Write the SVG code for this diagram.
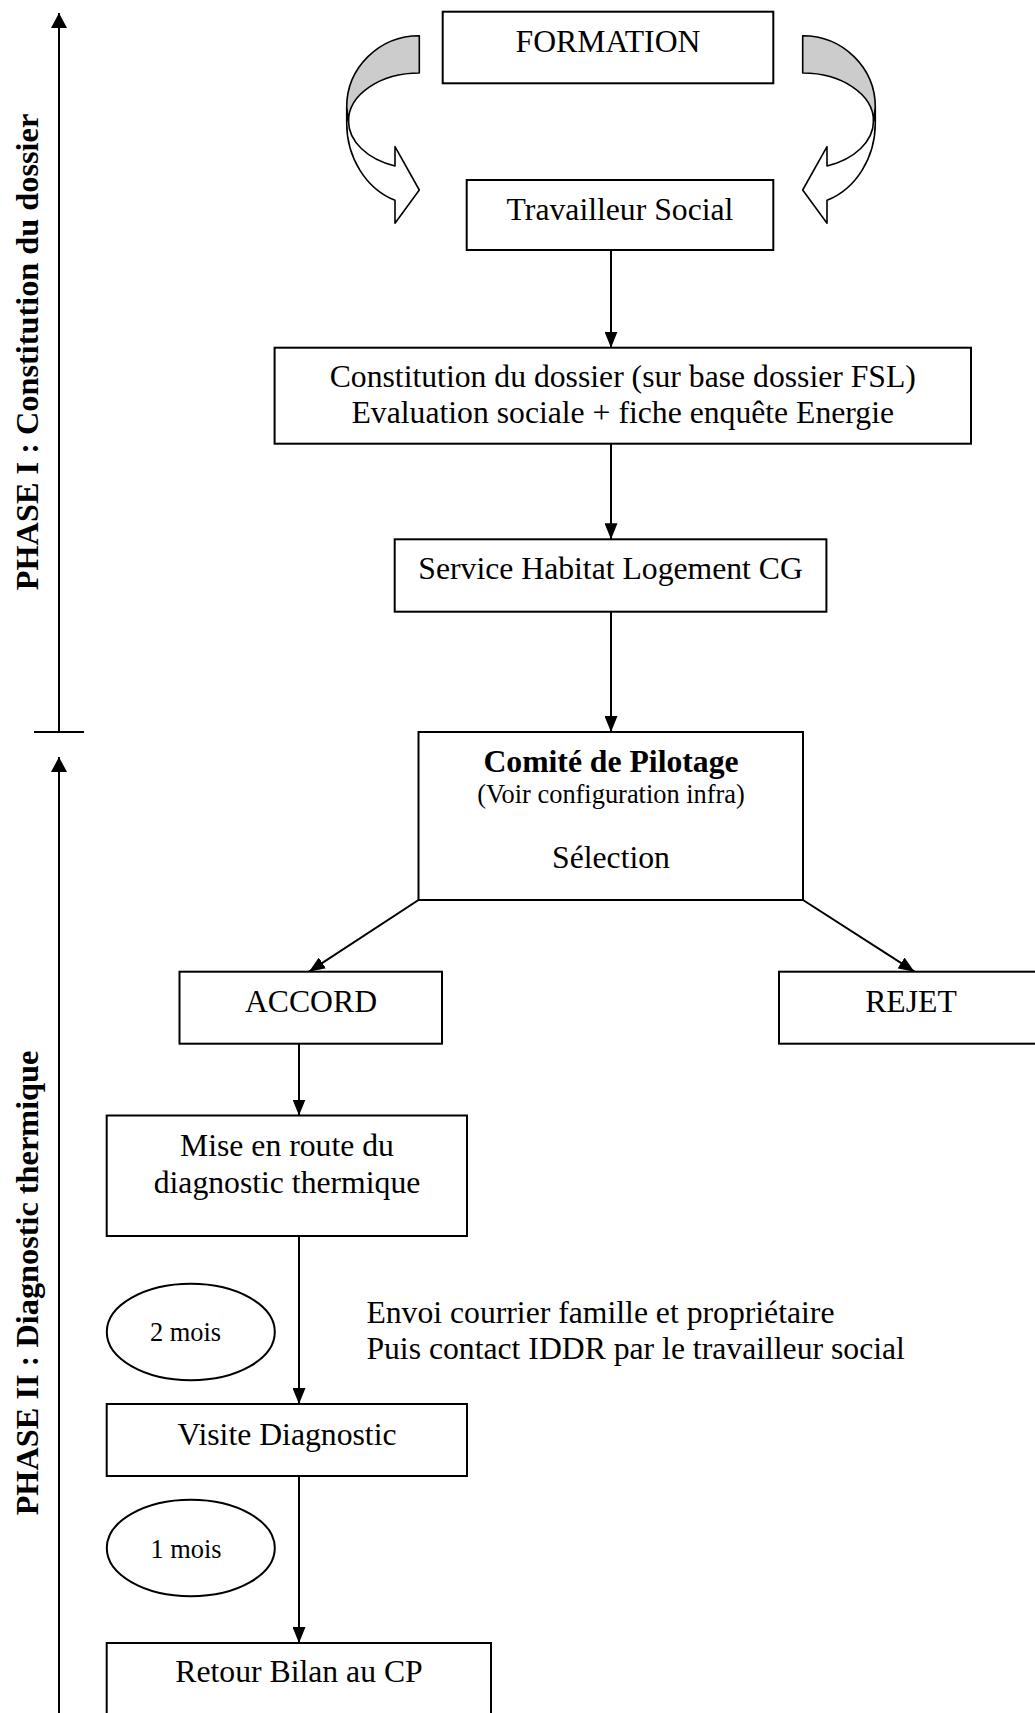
<svg xmlns="http://www.w3.org/2000/svg" width="1035" height="1713" viewBox="0 0 1035 1713">
<style>
.box{fill:#fff;stroke:#000;stroke-width:2}
.t{font-family:"Liberation Serif","Times New Roman",serif;font-size:31.7px;fill:#000;text-anchor:middle}
.s{font-size:26.4px}
.b{font-weight:bold}
.l{text-anchor:start}
.phase{font-family:"Liberation Serif","Times New Roman",serif;font-size:32.3px;font-weight:bold;fill:#000;text-anchor:middle}
.conn{stroke:#000;stroke-width:2;fill:none}
.grey{fill:#cccccc;stroke:#000;stroke-width:1.6;stroke-linejoin:round}
.white{fill:#fff;stroke:#000;stroke-width:1.6;stroke-linejoin:round}
</style>
<defs>
<marker id="ah" viewBox="0 0 16 13" refX="16" refY="6.5" markerWidth="16" markerHeight="13" orient="auto" markerUnits="userSpaceOnUse">
<path d="M0,0 L16,6.5 L0,13 Z" fill="#000"/>
</marker>
<marker id="ph" viewBox="0 0 15 16" refX="15" refY="8" markerWidth="15" markerHeight="16" orient="auto" markerUnits="userSpaceOnUse">
<path d="M0,0 L15,8 L0,16 Z" fill="#000"/>
</marker>
<g id="curl">
<path class="white" d="M346.7,107 L346.7,123 A72.6 82 0 0 0 395,200.3 L395,223.3 L419.3,190 L395,146.7 L395,166 A70.8 48 0 0 1 348.5,121 Z"/>
<path class="grey" d="M419.3,35.7 A72.6 71.3 0 0 0 346.7,107 L348.5,121 A70.8 48 0 0 1 419.3,73 Z"/>
</g>
</defs>

<g id="phases">
<line class="conn" x1="59" y1="732" x2="59" y2="13" marker-end="url(#ph)"/>
<line class="conn" x1="34" y1="732" x2="84" y2="732"/>
<line class="conn" x1="59" y1="1713" x2="59" y2="757" marker-end="url(#ph)"/>
<text class="phase" transform="translate(37.5,352) rotate(-90)">PHASE I : Constitution du dossier</text>
<text class="phase" transform="translate(37.5,1283) rotate(-90)">PHASE II : Diagnostic thermique</text>
</g>

<g id="curved-arrows">
<use href="#curl"/>
<use href="#curl" transform="matrix(-1 0 0 1 1222 0)"/>
</g>

<g id="connectors">
<line class="conn" x1="611" y1="250" x2="611" y2="347.7" marker-end="url(#ah)"/>
<line class="conn" x1="611" y1="443.7" x2="611" y2="539.3" marker-end="url(#ah)"/>
<line class="conn" x1="611" y1="611.7" x2="611" y2="732" marker-end="url(#ah)"/>
<line class="conn" x1="418.5" y1="900" x2="309" y2="971.7" marker-end="url(#ah)"/>
<line class="conn" x1="803" y1="900" x2="914.5" y2="971.7" marker-end="url(#ah)"/>
<line class="conn" x1="299" y1="1043.7" x2="299" y2="1115.5" marker-end="url(#ah)"/>
<line class="conn" x1="299" y1="1236" x2="299" y2="1404" marker-end="url(#ah)"/>
<line class="conn" x1="299" y1="1476" x2="299" y2="1643" marker-end="url(#ah)"/>
</g>

<g id="formation">
<rect class="box" x="442.7" y="11.7" width="330.6" height="71.6"/>
<text class="t" x="608" y="52">FORMATION</text>
</g>
<g id="travailleur-social">
<rect class="box" x="466.7" y="180" width="306.6" height="70"/>
<text class="t" x="620" y="220">Travailleur Social</text>
</g>
<g id="constitution">
<rect class="box" x="274.6" y="347.7" width="696.4" height="96"/>
<text class="t" x="622.8" y="387.3">Constitution du dossier (sur base dossier FSL)</text>
<text class="t" x="622.8" y="423.3">Evaluation sociale + fiche enquête Energie</text>
</g>
<g id="service-habitat">
<rect class="box" x="394.7" y="539.3" width="431.7" height="72.4"/>
<text class="t" x="610.6" y="579.3">Service Habitat Logement CG</text>
</g>
<g id="comite">
<rect class="box" x="418.5" y="732" width="384.5" height="168"/>
<text class="t b" x="611" y="771.7">Comité de Pilotage</text>
<text class="t s" x="611" y="803.3">(Voir configuration infra)</text>
<text class="t" x="611" y="868">Sélection</text>
</g>
<g id="accord">
<rect class="box" x="179.5" y="971.7" width="262.5" height="72"/>
<text class="t" x="311" y="1011.7">ACCORD</text>
</g>
<g id="rejet">
<rect class="box" x="779" y="971.7" width="270" height="72"/>
<text class="t" x="911" y="1011.7">REJET</text>
</g>
<g id="mise-en-route">
<rect class="box" x="106.7" y="1115.5" width="360.3" height="120.5"/>
<text class="t" x="287" y="1156">Mise en route du</text>
<text class="t" x="287" y="1192.5">diagnostic thermique</text>
</g>
<g id="delai-2-mois">
<ellipse class="box" cx="190.8" cy="1332" rx="84" ry="48.2" stroke-width="1.6"/>
<text class="t s" x="185.5" y="1340.5">2 mois</text>
</g>
<g id="envoi-courrier">
<text class="t l" x="366.4" y="1323">Envoi courrier famille et propriétaire</text>
<text class="t l" x="366.4" y="1359">Puis contact IDDR par le travailleur social</text>
</g>
<g id="visite-diagnostic">
<rect class="box" x="106.7" y="1404" width="360.3" height="72"/>
<text class="t" x="287" y="1444.7">Visite Diagnostic</text>
</g>
<g id="delai-1-mois">
<ellipse class="box" cx="190.8" cy="1548" rx="84" ry="48.2" stroke-width="1.6"/>
<text class="t s" x="186" y="1558">1 mois</text>
</g>
<g id="retour-bilan">
<rect class="box" x="106.7" y="1643" width="384.3" height="90"/>
<text class="t" x="299" y="1682">Retour Bilan au CP</text>
</g>
</svg>
